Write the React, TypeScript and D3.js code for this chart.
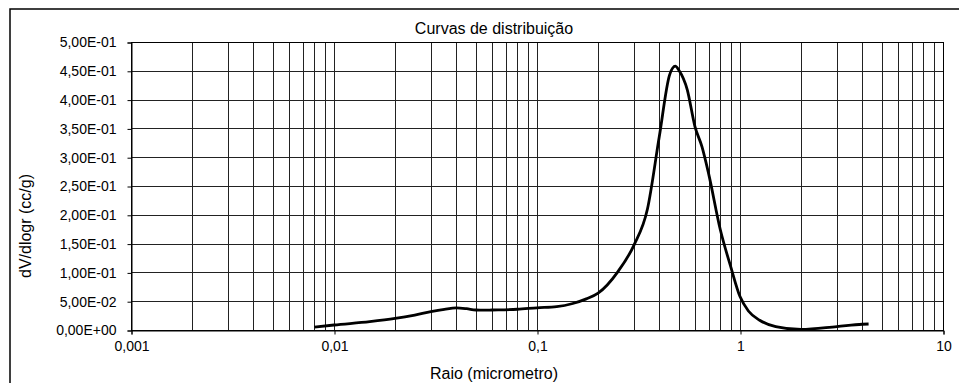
import React, { useRef, useEffect } from 'react';
import * as d3 from 'd3';

// raio (micrometro)
const radius = [0.008, 0.01, 0.015, 0.02, 0.025, 0.03, 0.035, 0.04, 0.045, 0.05, 0.055, 0.06, 0.08, 0.1,
  0.125, 0.15, 0.175, 0.2, 0.25, 0.3, 0.35, 0.4, 0.45, 0.48, 0.5, 0.55, 0.6, 0.65, 0.7, 0.8, 0.9, 1.0,
  1.1, 1.25, 1.5, 2, 3, 4, 4.3];
// dV/dlogr (cc/g)
const dvdlogr = [0.005, 0.0087, 0.0144, 0.02, 0.026, 0.032, 0.036, 0.0385, 0.037, 0.0347, 0.0344, 0.0347, 0.036, 0.0385,
  0.0405, 0.046, 0.054, 0.064, 0.101, 0.147, 0.21, 0.335, 0.443, 0.458, 0.451, 0.417, 0.353, 0.318, 0.272, 0.174, 0.11, 0.058,
  0.033, 0.017, 0.006, 0.001, 0.006, 0.010, 0.0104];

const yTicks = [0, 0.05, 0.1, 0.15, 0.2, 0.25, 0.3, 0.35, 0.4, 0.45, 0.5];
const xTicks = [0.001, 0.01, 0.1, 1, 10];
const xTickLabels = ['0,001', '0,01', '0,1', '1', '10'];

const fmtE = (v: number) => {
  const [m, e] = v.toExponential(2).split('e');
  const n = parseInt(e, 10);
  return m.replace('.', ',') + 'E' + (n < 0 ? '-' : '+') + String(Math.abs(n)).padStart(2, '0');
};

const App = () => {
  const svgRef = useRef<SVGSVGElement>(null);

  useEffect(() => {
    const svg = d3.select(svgRef.current);
    svg.selectAll('*').remove();

    const width = 959;
    const height = 383;
    const margin = { top: 42, right: 16, bottom: 53, left: 131 };
    const font = 'Liberation Sans, Arial, sans-serif';

    const x = d3.scaleLog().domain([0.001, 10]).range([margin.left, width - margin.right]);
    const y = d3.scaleLinear().domain([0, 0.5]).range([height - margin.bottom, margin.top]);

    // chart border
    svg.append('rect')
      .attr('x', 10).attr('y', 9)
      .attr('width', 960).attr('height', 380)
      .attr('fill', 'white').attr('stroke', '#000').attr('stroke-width', 1.5);

    // vertical grid (log minors)
    const minors: number[] = [];
    for (let d = 0.001; d < 10; d *= 10) {
      for (let k = 1; k <= 10; k++) minors.push(+(d * k).toPrecision(3));
    }
    svg.append('g')
      .selectAll('line')
      .data(minors)
      .join('line')
      .attr('x1', (d) => Math.round(x(d)) + 0.5)
      .attr('x2', (d) => Math.round(x(d)) + 0.5)
      .attr('y1', y(0.5))
      .attr('y2', y(0))
      .attr('stroke', '#222')
      .attr('stroke-width', 1);

    // horizontal grid
    svg.append('g')
      .selectAll('line')
      .data(yTicks)
      .join('line')
      .attr('x1', margin.left)
      .attr('x2', width - margin.right)
      .attr('y1', (d) => Math.round(y(d)) + 0.5)
      .attr('y2', (d) => Math.round(y(d)) + 0.5)
      .attr('stroke', '#222')
      .attr('stroke-width', 1);

    // y axis
    const yAxis = d3.axisLeft(y).tickValues(yTicks).tickSize(4).tickPadding(11).tickFormat((d) => fmtE(+d));
    svg.append('g')
      .attr('transform', `translate(${margin.left + 0.5},0.5)`)
      .call(yAxis)
      .call((g) => g.selectAll('text').attr('font-family', font).attr('font-size', 14).attr('fill', '#000'))
      .call((g) => g.selectAll('line,path').attr('stroke', '#000'));

    // x axis
    const xAxis = d3.axisBottom(x).tickValues(xTicks).tickSize(4).tickPadding(7)
      .tickFormat((d, i) => xTickLabels[i]);
    svg.append('g')
      .attr('transform', `translate(0.5,${height - margin.bottom + 0.5})`)
      .call(xAxis)
      .call((g) => g.selectAll('text').attr('font-family', font).attr('font-size', 14).attr('fill', '#000'))
      .call((g) => g.selectAll('line,path').attr('stroke', '#000'));

    // plot frame
    svg.append('rect')
      .attr('x', margin.left + 0.5).attr('y', margin.top + 0.5)
      .attr('width', width - margin.right - margin.left).attr('height', height - margin.bottom - margin.top)
      .attr('fill', 'none').attr('stroke', '#000');

    // curve
    const line = d3.line<number>()
      .x((d, i) => x(radius[i]))
      .y((d) => y(d))
      .curve(d3.curveMonotoneX);
    svg.append('path')
      .datum(dvdlogr)
      .attr('d', line)
      .attr('fill', 'none')
      .attr('stroke', '#000')
      .attr('stroke-width', 2.8)
      .attr('stroke-linejoin', 'round');

    // titles
    svg.append('text')
      .attr('x', 494).attr('y', 34)
      .attr('text-anchor', 'middle')
      .attr('font-family', font).attr('font-size', 16)
      .text('Curvas de distribuição');
    svg.append('text')
      .attr('x', 494).attr('y', 379)
      .attr('text-anchor', 'middle')
      .attr('font-family', font).attr('font-size', 16)
      .text('Raio (micrometro)');
    svg.append('text')
      .attr('transform', 'translate(31,226) rotate(-90)')
      .attr('text-anchor', 'middle')
      .attr('font-family', font).attr('font-size', 16)
      .text('dV/dlogr (cc/g)');
  }, []);

  return (
    <svg ref={svgRef} width={959} height={383} style={{ position: 'absolute', left: 0, top: 0, background: '#fff' }} />
  );
};

export default App;
